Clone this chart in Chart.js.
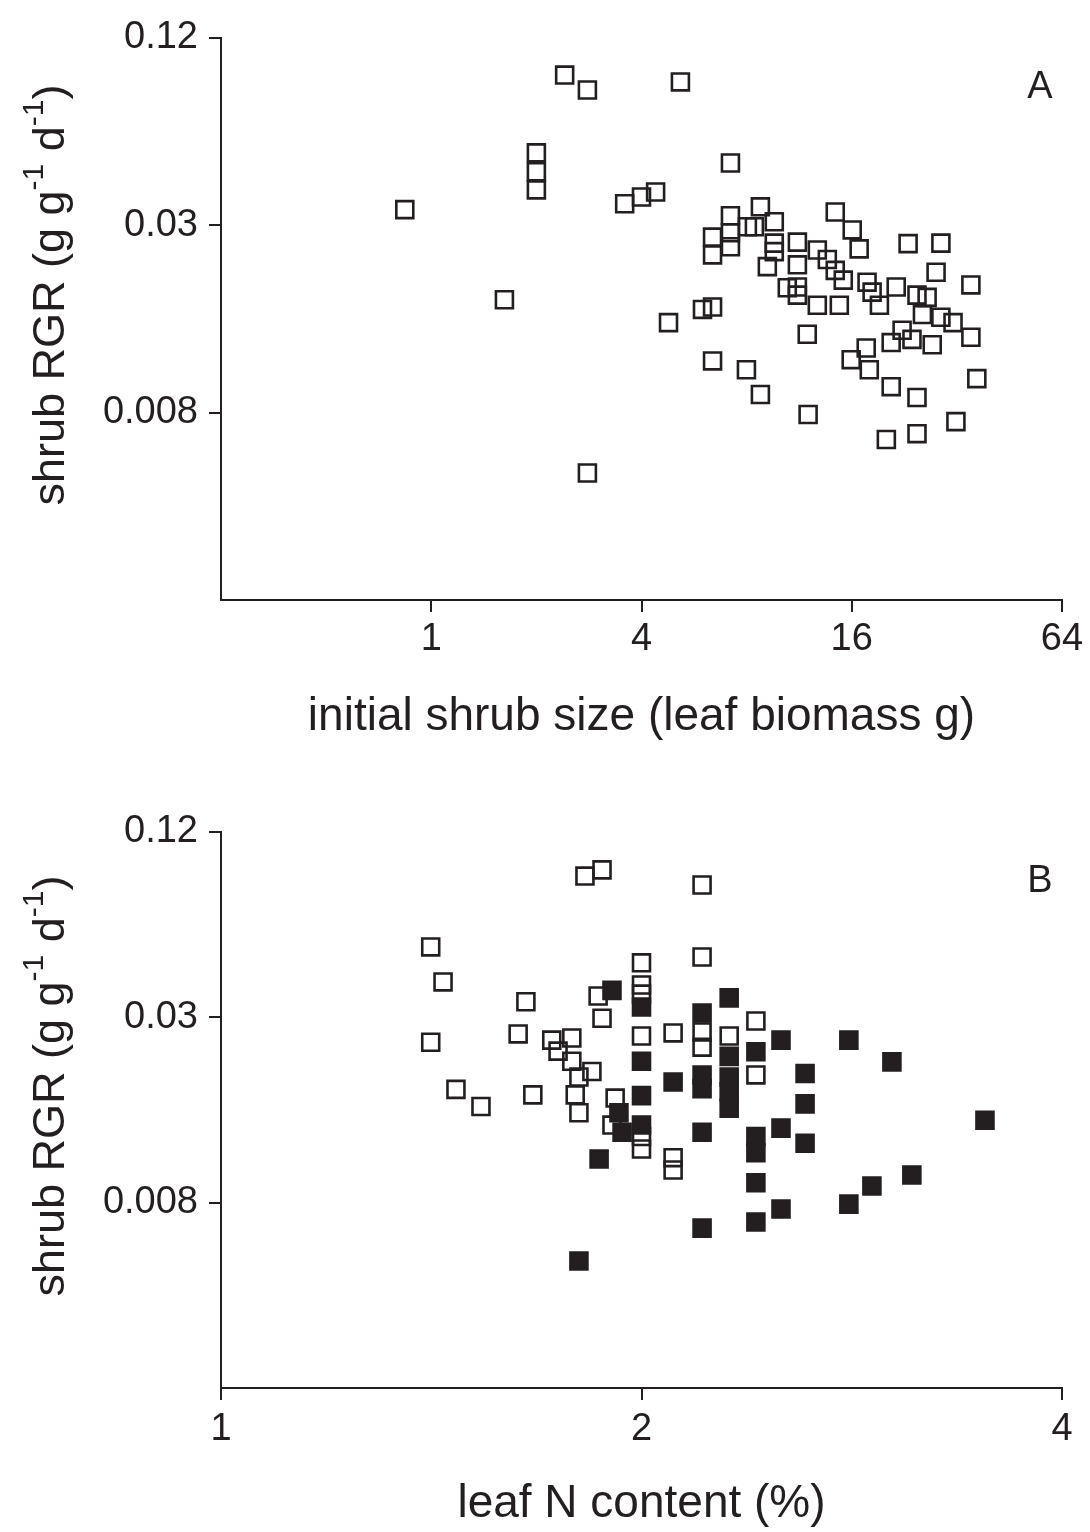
<!DOCTYPE html>
<html><head><meta charset="utf-8">
<script src="https://cdn.jsdelivr.net/npm/chart.js@4.4.0/dist/chart.umd.min.js"></script>
<style>
html,body{margin:0;padding:0;background:#fff;}
#wrap{position:relative;width:1090px;height:1532px;background:#fff;}
canvas{position:absolute;left:0;}
#cA{top:0;width:1090px;height:770px;}
#cB{top:770px;width:1090px;height:762px;}
</style></head><body>
<div id="wrap">
<canvas id="cA" width="1090" height="770"></canvas>
<canvas id="cB" width="1090" height="762"></canvas>
</div>
<script>
// ---------- Panel A: initial shrub size (leaf biomass, g) vs shrub RGR ----------
const sizeA = [0.84,1.62,2.00,2.00,2.00,2.41,2.80,2.80,3.58,4.00,
  4.39,4.78,5.17,5.98,6.39,6.39,7.19,8.76,7.19,9.60,
  8.04,6.39,7.19,7.19,6.39,9.60,9.60,9.17,14.35,16.05,
  16.8,11.18,12.75,13.62,11.18,14.35,10.46,11.18,11.18,12.75,
  14.74,15.13,17.7,18.3,19.2,21.45,23.2,28.8,27.9,35.1,
  24.6,26.3,25.5,28.8,31.2,35.1,22.3,20.75,23.8,27.2,
  17.6,15.94,17.96,11.93,7.99,8.76,12.0,20.75,24.6,36.5,
  31.8,20.1,24.6,8.42];
const rgrA = [0.0337,0.0173,0.0513,0.0446,0.0390,0.0912,0.0817,0.0048,0.0352,0.0370,
  0.0384,0.0146,0.0867,0.0161,0.0164,0.0110,0.0476,0.0344,0.0322,0.0308,
  0.0297,0.0275,0.0284,0.0256,0.0241,0.0263,0.0247,0.0221,0.0331,0.0290,
  0.0252,0.0265,0.0250,0.0233,0.0224,0.0215,0.0189,0.0190,0.0179,0.0166,
  0.0166,0.0200,0.0197,0.0183,0.0166,0.0190,0.0262,0.0263,0.0212,0.0193,
  0.0179,0.0176,0.0155,0.0152,0.0146,0.0131,0.0138,0.0126,0.0129,0.0124,
  0.0121,0.0111,0.0103,0.0134,0.0103,0.00858,0.0074,0.00909,0.00839,0.00965,
  0.00702,0.00615,0.00642,0.0297];

// ---------- Panel B: leaf N content (%) vs shrub RGR ----------
const nOpen = [1.822,1.874,2.210,1.413,1.442,1.653,1.413,1.632,1.862,1.874,
  2.0,2.0,2.0,2.210,1.725,1.783,1.743,1.783,1.804,1.843,
  1.473,1.535,1.672,1.793,1.804,1.915,1.905,2.0,2.107,2.0,
  2.0,2.107,2.107,2.210,2.210,2.311,2.415,2.415];
const rgrOpen = [0.0863,0.0904,0.0807,0.0508,0.0391,0.0337,0.0249,0.0265,0.0352,0.0298,
  0.0451,0.0382,0.0357,0.0471,0.0253,0.0257,0.0233,0.0216,0.0192,0.0200,
  0.0175,0.0154,0.0168,0.0168,0.0147,0.0164,0.0134,0.0261,0.0267,0.0123,
  0.0112,0.0105,0.00958,0.0269,0.0240,0.0261,0.0292,0.0195];
const nFilled = [1.905,2.0,2.0,2.107,2.0,1.927,1.937,2.0,1.865,1.804,
  2.210,2.210,2.210,2.210,2.210,2.311,2.311,2.311,2.311,2.311,
  2.415,2.415,2.415,2.415,2.415,2.517,2.517,2.517,2.619,2.619,
  2.619,2.815,3.022,3.523,3.123,2.924,2.815];
const rgrFilled = [0.0367,0.0324,0.0216,0.0185,0.0167,0.0147,0.0127,0.0134,0.0104,0.00485,
  0.0310,0.0195,0.0176,0.0127,0.0062,0.0347,0.0224,0.0192,0.0172,0.0152,
  0.0232,0.0123,0.0109,0.0087,0.00649,0.0253,0.0131,0.00715,0.0197,0.0157,
  0.0117,0.0253,0.0215,0.0139,0.00923,0.0085,0.00742];

// ---------- Axes ----------
const xTicksA = [1, 4, 16, 64];
const xRangeA = [0.25, 64];
const xTicksB = [1, 2, 4];
const xRangeB = [1, 4];
const yTicks = [0.0075, 0.03, 0.12];
const yTickLabels = ['0.008', '0.03', '0.12'];
const yRange = [0.001875, 0.12];
const xTitleA = 'initial shrub size (leaf biomass g)';
const xTitleB = 'leaf N content (%)';
const yTitleParts = [['shrub RGR (g g', false], ['-1', true], [' d', false], ['-1', true], [')', false]];
const panelLetters = ['A', 'B'];

const INK = '#231f20';
const FONT = "'Liberation Sans', Arial, Helvetica, sans-serif";

function pts(xs, ys) { return xs.map((x, i) => ({ x: x, y: ys[i] })); }

function annotPlugin(letter) {
  return {
    id: 'annot' + letter,
    afterDraw(chart) {
      const ctx = chart.ctx, a = chart.chartArea;
      ctx.save();
      ctx.fillStyle = INK;
      // panel letter
      ctx.font = '38px ' + FONT;
      ctx.textAlign = 'center';
      ctx.textBaseline = 'middle';
      ctx.fillText(letter, a.right - 22, a.top + 50);
      // y title with superscripts
      const big = '45px ' + FONT, small = '30px ' + FONT;
      let total = 0;
      yTitleParts.forEach(([t, sup]) => { ctx.font = sup ? small : big; total += ctx.measureText(t).width; });
      ctx.translate(48, (a.top + a.bottom) / 2 - 24);
      ctx.rotate(-Math.PI / 2);
      ctx.textAlign = 'left';
      ctx.textBaseline = 'alphabetic';
      let x = -total / 2;
      yTitleParts.forEach(([t, sup]) => {
        ctx.font = sup ? small : big;
        ctx.fillText(t, x, sup ? -5 : 16);
        x += ctx.measureText(t).width;
      });
      ctx.restore();
    }
  };
}

function makeChart(id, datasets, xTicks, xRange, xTitle, letter, padTop, xAxisH, titlePadBottom, tickPad) {
  return new Chart(document.getElementById(id), {
    type: 'scatter',
    data: { datasets: datasets },
    options: {
      responsive: false,
      animation: false,
      layout: { padding: { top: padTop, right: 28, bottom: 0, left: 0 } },
      plugins: { legend: { display: false }, tooltip: { enabled: false } },
      scales: {
        x: {
          type: 'logarithmic', position: 'bottom', min: xRange[0], max: xRange[1],
          afterBuildTicks: s => { s.ticks = xTicks.map(v => ({ value: v })); },
          afterFit: s => { s.height = xAxisH; },
          ticks: { callback: v => String(v), font: { family: FONT, size: 38 }, color: INK, padding: tickPad, maxRotation: 0, autoSkip: false },
          grid: { display: true, drawOnChartArea: false, drawTicks: true, tickLength: 12, color: INK, lineWidth: 2 },
          border: { display: true, color: INK, width: 2 },
          title: { display: true, text: xTitle, font: { family: FONT, size: 46 }, color: INK, padding: { top: 0, bottom: titlePadBottom } }
        },
        y: {
          type: 'logarithmic', position: 'left', min: yRange[0], max: yRange[1],
          afterBuildTicks: s => { s.ticks = yTicks.map(v => ({ value: v })); },
          afterFit: s => { s.width = 221; },
          ticks: { callback: v => yTickLabels[yTicks.indexOf(v)], font: { family: FONT, size: 38 }, color: INK, padding: 11, autoSkip: false },
          grid: { display: true, drawOnChartArea: false, drawTicks: true, tickLength: 12, color: INK, lineWidth: 2 },
          border: { display: true, color: INK, width: 2 },
          title: { display: false }
        }
      }
    },
    plugins: [annotPlugin(letter)]
  });
}

const openStyle = { pointStyle: 'rect', pointRadius: 12, pointHoverRadius: 12, pointBorderWidth: 2.6,
  pointBorderColor: INK, pointBackgroundColor: 'rgba(0,0,0,0)', showLine: false };
const filledStyle = { pointStyle: 'rect', pointRadius: 12, pointHoverRadius: 12, pointBorderWidth: 2.6,
  pointBorderColor: INK, pointBackgroundColor: INK, showLine: false };

makeChart('cA', [Object.assign({ label: 'shrubs', data: pts(sizeA, rgrA) }, openStyle)],
  xTicksA, xRangeA, xTitleA, panelLetters[0], 38, 170, 25, 5);

makeChart('cB', [
  Object.assign({ label: 'open', data: pts(nOpen, rgrOpen) }, openStyle),
  Object.assign({ label: 'filled', data: pts(nFilled, rgrFilled) }, filledStyle)
], xTicksB, xRangeB, xTitleB, panelLetters[1], 62, 144, 0, 7);
</script>
</body></html>
